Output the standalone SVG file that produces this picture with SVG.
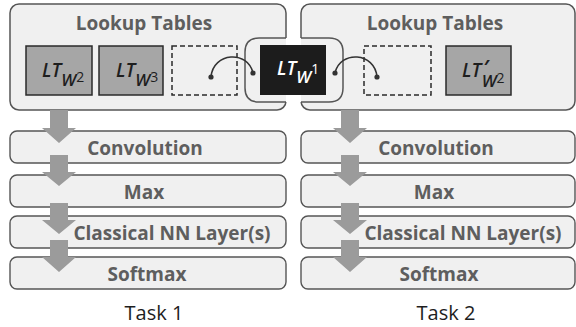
<svg xmlns="http://www.w3.org/2000/svg" width="576" height="327" viewBox="0 0 576 327">
  <defs>
    <style>
      .panel { fill: #f0f0f0; stroke: #555; stroke-width: 1.5; }
      .layer { fill: #f0f0f0; stroke: #555; stroke-width: 1.4; }
      .title { font-family: "Open Sans", "Liberation Sans", sans-serif; font-weight: 700; font-size: 19px; fill: #5e5e5e; text-anchor: middle; }
      .task { font-family: "Open Sans", "Liberation Sans", sans-serif; font-size: 20px; fill: #1e1e1e; text-anchor: middle; }
      .lt { fill: #a6a6a6; stroke: #2a2a2a; stroke-width: 1.5; }
      .slot { fill: none; stroke: #2a2a2a; stroke-width: 1.5; stroke-dasharray: 5 3; }
      .ltxt { font-family: "Open Sans", "Liberation Sans", sans-serif; font-style: italic; font-weight: 600; font-size: 19px; fill: #1e1e1e; }
      .sub { font-size: 17px; }
      .sup { font-style: normal; font-weight: 400; font-size: 14px; }
      .flow { fill: #9b9b9b; }
      .link { fill: none; stroke: #333; stroke-width: 1.5; }
      .dot { fill: #333; }
    </style>
  </defs>

  <!-- Task 1 lookup table panel -->
  <g id="panel-task1">
    <rect class="panel" x="10" y="4" width="276" height="106" rx="9"/>
    <text class="title" x="144" y="30">Lookup Tables</text>
  </g>

  <!-- Task 2 lookup table panel -->
  <g id="panel-task2">
    <rect class="panel" x="301" y="4" width="274" height="106" rx="9"/>
    <text class="title" x="435" y="30">Lookup Tables</text>
  </g>

  <!-- shared table holder bridging both panels -->
  <g id="lt-w1">
    <path d="M259 38 H329 Q343 38 343 52 V88 Q343 102 329 102 H259 Q245 102 245 88 V52 Q245 38 259 38 Z" fill="#fff"/>
    <path class="panel" fill="none" d="M286 38 H259 Q245 38 245 52 V88 Q245 102 259 102 H286"/>
    <path class="panel" fill="none" d="M301 38 H329 Q343 38 343 52 V88 Q343 102 329 102 H301"/>
    <rect x="260" y="45" width="66" height="50" fill="#1c1c1c"/>
    <text class="ltxt" x="277" y="75" style="fill:#fff">LT<tspan class="sub" dy="8">W</tspan><tspan class="sup" font-size="12" dy="-9">1</tspan></text>
  </g>

  <g id="lt-w2">
    <rect class="lt" x="26" y="46" width="66" height="49"/>
    <text class="ltxt" x="42" y="77">LT<tspan class="sub" dy="9">W</tspan><tspan class="sup" dy="-4">2</tspan></text>
  </g>

  <g id="lt-w3">
    <rect class="lt" x="99" y="46" width="64" height="49"/>
    <text class="ltxt" x="116" y="77">LT<tspan class="sub" dy="9">W</tspan><tspan class="sup" dy="-4">3</tspan></text>
  </g>

  <g id="slot-task1">
    <rect class="slot" x="172" y="46" width="65" height="49"/>
  </g>

  <g id="slot-task2">
    <rect class="slot" x="364" y="46" width="67" height="49"/>
  </g>

  <g id="lt-w2-prime">
    <rect class="lt" x="446" y="46" width="65" height="49"/>
    <text class="ltxt" x="462" y="77">LT<tspan font-weight="700" dx="2" dy="-3">′</tspan><tspan class="sub" dx="-7" dy="13">W</tspan><tspan class="sup" dy="-4">2</tspan></text>
  </g>

  <!-- Task 1 layer stack -->
  <g id="conv-task1">
    <rect class="layer" x="10" y="131" width="276" height="32" rx="7"/>
    <text class="title" x="145" y="155">Convolution</text>
  </g>
  <g id="max-task1">
    <rect class="layer" x="10" y="175" width="276" height="32" rx="7"/>
    <text class="title" x="144" y="199">Max</text>
  </g>
  <g id="nn-task1">
    <rect class="layer" x="10" y="216" width="276" height="32" rx="7"/>
    <text class="title" x="172" y="240">Classical NN Layer(s)</text>
  </g>
  <g id="softmax-task1">
    <rect class="layer" x="10" y="257" width="276" height="32" rx="7"/>
    <text class="title" x="147" y="281">Softmax</text>
  </g>

  <!-- Task 2 layer stack -->
  <g id="conv-task2">
    <rect class="layer" x="301" y="131" width="274" height="32" rx="7"/>
    <text class="title" x="436" y="155">Convolution</text>
  </g>
  <g id="max-task2">
    <rect class="layer" x="301" y="175" width="274" height="32" rx="7"/>
    <text class="title" x="434" y="199">Max</text>
  </g>
  <g id="nn-task2">
    <rect class="layer" x="301" y="216" width="274" height="32" rx="7"/>
    <text class="title" x="463" y="240">Classical NN Layer(s)</text>
  </g>
  <g id="softmax-task2">
    <rect class="layer" x="301" y="257" width="274" height="32" rx="7"/>
    <text class="title" x="439" y="281">Softmax</text>
  </g>

  <!-- data flow arrows and table links -->
  <g id="connectors">
    <path class="flow" d="M50 110 H68 V128 H76 L59 143 L42 128 H50 Z"/>
    <path class="flow" d="M50 155 H68 V172 H76 L59 186 L42 172 H50 Z"/>
    <path class="flow" d="M50 203 H68 V220 H76 L59 234 L42 220 H50 Z"/>
    <path class="flow" d="M50 240 H68 V257 H76 L59 272 L42 257 H50 Z"/>

    <path class="flow" d="M341 110 H359 V128 H367 L350 143 L333 128 H341 Z"/>
    <path class="flow" d="M341 155 H359 V172 H367 L350 186 L333 172 H341 Z"/>
    <path class="flow" d="M341 203 H359 V220 H367 L350 234 L333 220 H341 Z"/>
    <path class="flow" d="M341 240 H359 V257 H367 L350 272 L333 257 H341 Z"/>

    <path class="link" d="M211 77 C213 52 248 50 253 73"/>
    <circle class="dot" cx="211" cy="77" r="2.6"/>
    <circle class="dot" cx="253" cy="73" r="2.6"/>
    <path class="link" d="M335 73 C340 50 375 52 377 77"/>
    <circle class="dot" cx="335" cy="73" r="2.6"/>
    <circle class="dot" cx="377" cy="77" r="2.6"/>
  </g>

  <g id="task-labels">
    <text class="task" x="154" y="320">Task 1</text>
    <text class="task" x="446" y="320">Task 2</text>
  </g>
</svg>
